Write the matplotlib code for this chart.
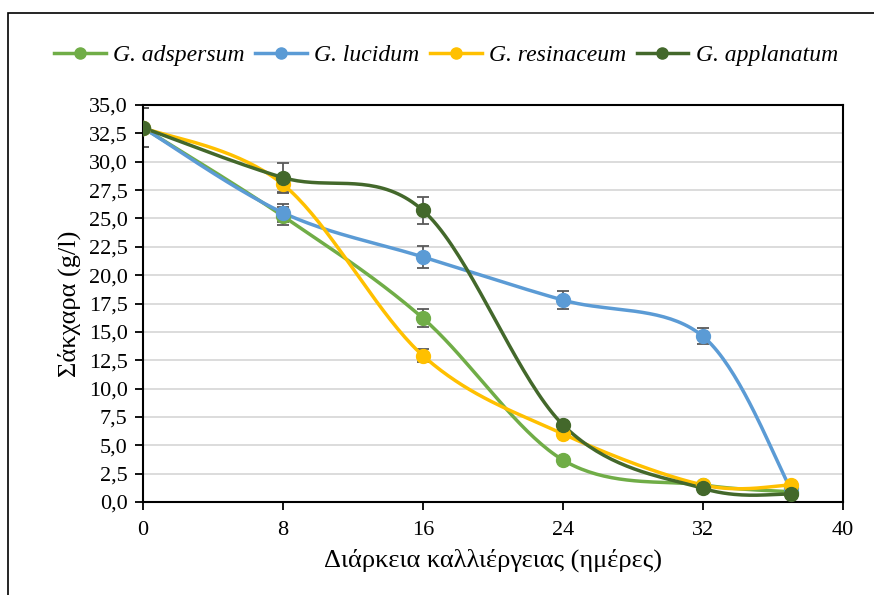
import numpy as np
import matplotlib
matplotlib.use("Agg")
import matplotlib.pyplot as plt
from matplotlib.ticker import FuncFormatter, MultipleLocator
from matplotlib.patches import Rectangle

plt.rcParams['font.family'] = ['Liberation Serif', 'DejaVu Serif']

# data
days = [0, 8, 16, 24, 32, 37]
names = ["G. adspersum", "G. lucidum", "G. resinaceum", "G. applanatum"]
colors = ["#70AD47", "#5B9BD5", "#FFC000", "#43682B"]
adspersum = [33.0, 25.2, 16.2, 3.7, 1.5, 0.9]
lucidum = [33.0, 25.5, 21.6, 17.8, 14.6, 1.2]
resinaceum = [33.0, 28.0, 12.9, 6.0, 1.5, 1.5]
applanatum = [33.0, 28.6, 25.7, 6.8, 1.2, 0.7]
err_adspersum = [1.7, 0.8, 0.8, 0.3, 0.2, 0.1]
err_lucidum = [1.7, 0.8, 1.0, 0.8, 0.7, 0.1]
err_resinaceum = [1.7, 0.8, 0.6, 0.3, 0.2, 0.1]
err_applanatum = [1.7, 1.3, 1.2, 0.3, 0.2, 0.1]

series = [adspersum, lucidum, resinaceum, applanatum]
errors = [err_adspersum, err_lucidum, err_resinaceum, err_applanatum]


def smooth(x, y, n=40):
    # bezier smoothing like excel's "smoothed line"
    x = np.asarray(x, float)
    y = np.asarray(y, float)
    px, py = [], []
    for i in range(len(x) - 1):
        x0, y0 = (x[i - 1], y[i - 1]) if i > 0 else (x[i], y[i])
        x3, y3 = (x[i + 2], y[i + 2]) if i + 2 < len(x) else (x[i + 1], y[i + 1])
        c1x = x[i] + (x[i + 1] - x0) / 6
        c1y = y[i] + (y[i + 1] - y0) / 6
        c2x = x[i + 1] - (x3 - x[i]) / 6
        c2y = y[i + 1] - (y3 - y[i]) / 6
        t = np.linspace(0, 1, n)
        px.extend((1-t)**3*x[i] + 3*(1-t)**2*t*c1x + 3*(1-t)*t**2*c2x + t**3*x[i+1])
        py.extend((1-t)**3*y[i] + 3*(1-t)**2*t*c1y + 3*(1-t)*t**2*c2y + t**3*y[i+1])
    return px, py


fig = plt.figure(figsize=(8.74, 5.95), dpi=100)
ax = fig.add_axes([143/874, 1-502/595, (843-143)/874, (502-105)/595])

fig.patches.append(Rectangle((8/874, -0.1), 1.2, 1 - 13/595 + 0.1, transform=fig.transFigure,
                             fill=False, edgecolor="black", linewidth=1.2))

handles = []
for y, e, c, name in zip(series, errors, colors, names):
    sx, sy = smooth(days, y)
    ax.plot(sx, sy, color=c, linewidth=2.5, zorder=3)
    ax.errorbar(days, y, yerr=e, fmt="none", ecolor="#595959", elinewidth=1.3,
                capsize=4, capthick=1.3, zorder=2)
    ax.plot(days, y, "o", color=c, markersize=10, zorder=4)
    h, = ax.plot([], [], "-o", color=c, linewidth=2.5, markersize=8)
    handles.append(h)

ax.set_xlim(0, 40)
ax.set_ylim(0, 35)
ax.xaxis.set_major_locator(MultipleLocator(8))
ax.yaxis.set_major_locator(MultipleLocator(2.5))
ax.yaxis.set_major_formatter(FuncFormatter(lambda v, p: ("%.1f" % v).replace(".", ",")))
ax.grid(axis="y", color="#D9D9D9", linewidth=1.3, zorder=0)
ax.set_axisbelow(True)
for s in ax.spines.values():
    s.set_linewidth(1.5)
ax.tick_params(labelsize=16, length=6, width=1.3, direction="out", pad=5)
ax.tick_params(axis="x", pad=8)
ax.tick_params(top=False, right=False)

ax.set_xlabel("Διάρκεια καλλιέργειας (ημέρες)", fontsize=19, labelpad=6)
ax.set_ylabel("Σάκχαρα (g/l)", fontsize=19, labelpad=6)

fig.legend(handles, names, loc="center", bbox_to_anchor=(0.51, 1 - 55/595), ncol=4,
           frameon=False, prop={"style": "italic", "size": 17}, handlelength=2.2,
           handletextpad=0.3, columnspacing=0.45)

fig.savefig("out.png", dpi=100)
